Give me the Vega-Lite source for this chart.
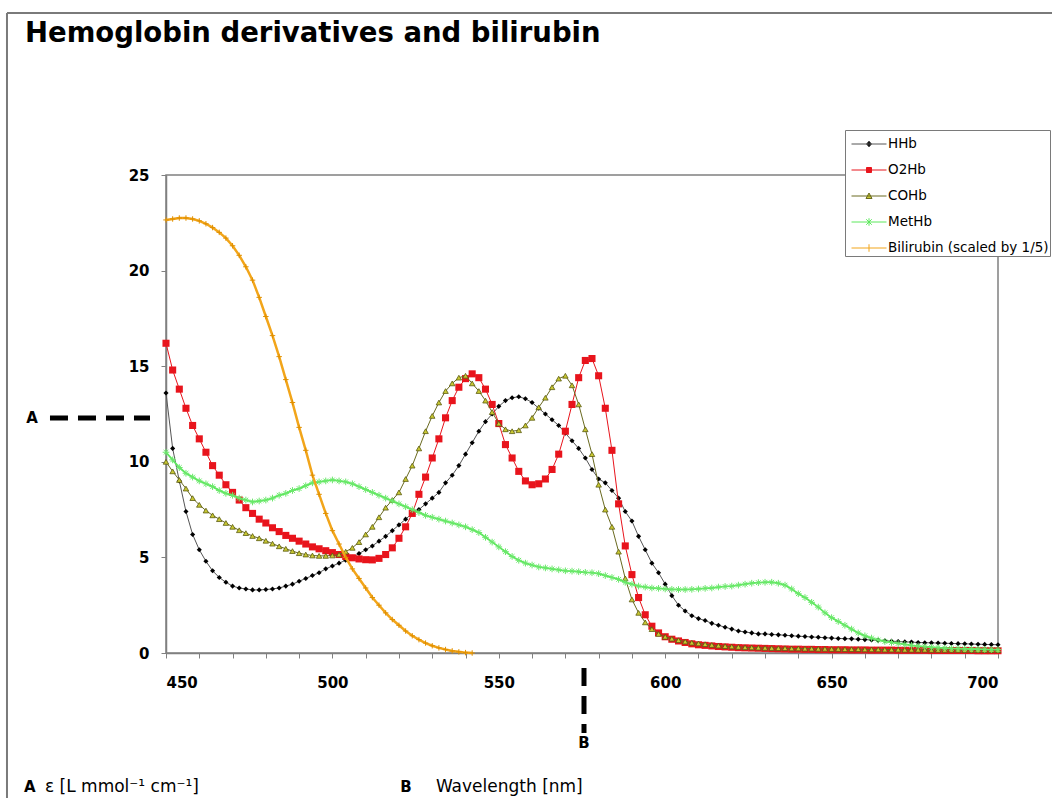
{
  "$schema": "https://vega.github.io/schema/vega-lite/v6.json",
  "width": 832,
  "height": 478,
  "autosize": {"type": "none"},
  "padding": {"left": 166, "top": 175, "right": 54, "bottom": 145},
  "background": "white",
  "title": {"text": "Hemoglobin derivatives and bilirubin", "anchor": "start", "frame": "group", "font": "DejaVu Sans", "fontSize": 27.5, "fontWeight": "bold", "color": "#000000", "dx": -141, "dy": 45, "offset": 10},
  "config": {
    "view": {"stroke": "#808080", "strokeWidth": 1.5},
    "axis": {"grid": false, "title": null, "domainColor": "#808080", "domainWidth": 1.5, "tickColor": "#808080", "tickSize": 5, "labelFont": "DejaVu Sans", "labelFontSize": 15, "labelFontWeight": "bold", "labelColor": "#000000", "labelOverlap": false}
  },
  "datasets": {
    "spec": [
      {"w":450,"HHb":13.6,"O2Hb":16.2,"COHb":10.0,"MetHb":10.5,"Bili":22.65},
      {"w":452,"HHb":10.7,"O2Hb":14.8,"COHb":9.5,"MetHb":10.1,"Bili":22.7},
      {"w":454,"HHb":9.0,"O2Hb":13.8,"COHb":9.05,"MetHb":9.7,"Bili":22.75},
      {"w":456,"HHb":7.4,"O2Hb":12.8,"COHb":8.6,"MetHb":9.4,"Bili":22.75},
      {"w":458,"HHb":6.2,"O2Hb":11.9,"COHb":8.1,"MetHb":9.2,"Bili":22.7},
      {"w":460,"HHb":5.4,"O2Hb":11.2,"COHb":7.75,"MetHb":9.0,"Bili":22.6},
      {"w":462,"HHb":4.8,"O2Hb":10.5,"COHb":7.45,"MetHb":8.85,"Bili":22.45},
      {"w":464,"HHb":4.3,"O2Hb":9.8,"COHb":7.2,"MetHb":8.7,"Bili":22.25},
      {"w":466,"HHb":3.95,"O2Hb":9.3,"COHb":7.0,"MetHb":8.5,"Bili":22.0},
      {"w":468,"HHb":3.7,"O2Hb":8.8,"COHb":6.8,"MetHb":8.35,"Bili":21.7},
      {"w":470,"HHb":3.5,"O2Hb":8.4,"COHb":6.6,"MetHb":8.25,"Bili":21.3},
      {"w":472,"HHb":3.4,"O2Hb":8.0,"COHb":6.42,"MetHb":8.1,"Bili":20.8},
      {"w":474,"HHb":3.35,"O2Hb":7.6,"COHb":6.27,"MetHb":8.0,"Bili":20.2},
      {"w":476,"HHb":3.3,"O2Hb":7.3,"COHb":6.12,"MetHb":7.9,"Bili":19.5},
      {"w":478,"HHb":3.3,"O2Hb":7.0,"COHb":6.0,"MetHb":7.95,"Bili":18.6},
      {"w":480,"HHb":3.32,"O2Hb":6.8,"COHb":5.87,"MetHb":8.0,"Bili":17.6},
      {"w":482,"HHb":3.35,"O2Hb":6.55,"COHb":5.72,"MetHb":8.1,"Bili":16.6},
      {"w":484,"HHb":3.4,"O2Hb":6.35,"COHb":5.58,"MetHb":8.25,"Bili":15.5},
      {"w":486,"HHb":3.5,"O2Hb":6.15,"COHb":5.45,"MetHb":8.35,"Bili":14.3},
      {"w":488,"HHb":3.6,"O2Hb":6.0,"COHb":5.33,"MetHb":8.5,"Bili":13.1},
      {"w":490,"HHb":3.75,"O2Hb":5.85,"COHb":5.22,"MetHb":8.6,"Bili":11.8},
      {"w":492,"HHb":3.9,"O2Hb":5.7,"COHb":5.15,"MetHb":8.75,"Bili":10.6},
      {"w":494,"HHb":4.05,"O2Hb":5.55,"COHb":5.1,"MetHb":8.9,"Bili":9.3},
      {"w":496,"HHb":4.2,"O2Hb":5.45,"COHb":5.08,"MetHb":8.95,"Bili":8.3},
      {"w":498,"HHb":4.4,"O2Hb":5.35,"COHb":5.08,"MetHb":9.0,"Bili":7.3},
      {"w":500,"HHb":4.55,"O2Hb":5.25,"COHb":5.1,"MetHb":9.05,"Bili":6.4},
      {"w":502,"HHb":4.7,"O2Hb":5.15,"COHb":5.15,"MetHb":9.0,"Bili":5.7},
      {"w":504,"HHb":4.85,"O2Hb":5.05,"COHb":5.3,"MetHb":8.95,"Bili":5.0},
      {"w":506,"HHb":5.0,"O2Hb":4.98,"COHb":5.5,"MetHb":8.85,"Bili":4.4},
      {"w":508,"HHb":5.2,"O2Hb":4.92,"COHb":5.8,"MetHb":8.7,"Bili":3.9},
      {"w":510,"HHb":5.4,"O2Hb":4.88,"COHb":6.2,"MetHb":8.55,"Bili":3.4},
      {"w":512,"HHb":5.6,"O2Hb":4.87,"COHb":6.6,"MetHb":8.4,"Bili":2.9},
      {"w":514,"HHb":5.85,"O2Hb":4.95,"COHb":7.1,"MetHb":8.25,"Bili":2.5},
      {"w":516,"HHb":6.1,"O2Hb":5.15,"COHb":7.6,"MetHb":8.1,"Bili":2.1},
      {"w":518,"HHb":6.4,"O2Hb":5.5,"COHb":8.0,"MetHb":7.95,"Bili":1.75},
      {"w":520,"HHb":6.7,"O2Hb":6.0,"COHb":8.4,"MetHb":7.8,"Bili":1.45},
      {"w":522,"HHb":7.0,"O2Hb":6.6,"COHb":9.1,"MetHb":7.65,"Bili":1.15},
      {"w":524,"HHb":7.3,"O2Hb":7.3,"COHb":9.8,"MetHb":7.5,"Bili":0.9},
      {"w":526,"HHb":7.5,"O2Hb":8.3,"COHb":10.7,"MetHb":7.35,"Bili":0.7},
      {"w":528,"HHb":7.8,"O2Hb":9.2,"COHb":11.6,"MetHb":7.2,"Bili":0.52},
      {"w":530,"HHb":8.1,"O2Hb":10.2,"COHb":12.4,"MetHb":7.1,"Bili":0.38},
      {"w":532,"HHb":8.4,"O2Hb":11.2,"COHb":13.1,"MetHb":7.0,"Bili":0.27},
      {"w":534,"HHb":8.9,"O2Hb":12.3,"COHb":13.7,"MetHb":6.9,"Bili":0.18},
      {"w":536,"HHb":9.3,"O2Hb":13.2,"COHb":14.1,"MetHb":6.8,"Bili":0.11},
      {"w":538,"HHb":9.8,"O2Hb":13.9,"COHb":14.4,"MetHb":6.7,"Bili":0.06},
      {"w":540,"HHb":10.4,"O2Hb":14.35,"COHb":14.5,"MetHb":6.6,"Bili":0.02},
      {"w":542,"HHb":11.0,"O2Hb":14.6,"COHb":14.1,"MetHb":6.45,"Bili":0.0},
      {"w":544,"HHb":11.6,"O2Hb":14.4,"COHb":13.7,"MetHb":6.3},
      {"w":546,"HHb":12.1,"O2Hb":13.8,"COHb":13.2,"MetHb":6.05},
      {"w":548,"HHb":12.5,"O2Hb":13.0,"COHb":12.6,"MetHb":5.8},
      {"w":550,"HHb":12.9,"O2Hb":12.0,"COHb":12.0,"MetHb":5.55},
      {"w":552,"HHb":13.2,"O2Hb":10.9,"COHb":11.7,"MetHb":5.3},
      {"w":554,"HHb":13.35,"O2Hb":10.2,"COHb":11.6,"MetHb":5.05},
      {"w":556,"HHb":13.4,"O2Hb":9.5,"COHb":11.65,"MetHb":4.85},
      {"w":558,"HHb":13.3,"O2Hb":9.0,"COHb":11.9,"MetHb":4.7},
      {"w":560,"HHb":13.1,"O2Hb":8.8,"COHb":12.3,"MetHb":4.6},
      {"w":562,"HHb":12.8,"O2Hb":8.85,"COHb":12.85,"MetHb":4.5},
      {"w":564,"HHb":12.5,"O2Hb":9.1,"COHb":13.35,"MetHb":4.45},
      {"w":566,"HHb":12.2,"O2Hb":9.6,"COHb":13.9,"MetHb":4.4},
      {"w":568,"HHb":11.9,"O2Hb":10.4,"COHb":14.35,"MetHb":4.35},
      {"w":570,"HHb":11.5,"O2Hb":11.6,"COHb":14.5,"MetHb":4.3},
      {"w":572,"HHb":11.1,"O2Hb":13.0,"COHb":14.0,"MetHb":4.28},
      {"w":574,"HHb":10.7,"O2Hb":14.4,"COHb":13.0,"MetHb":4.25},
      {"w":576,"HHb":10.2,"O2Hb":15.3,"COHb":11.7,"MetHb":4.22},
      {"w":578,"HHb":9.6,"O2Hb":15.4,"COHb":10.4,"MetHb":4.2},
      {"w":580,"HHb":9.1,"O2Hb":14.5,"COHb":8.8,"MetHb":4.15},
      {"w":582,"HHb":8.9,"O2Hb":12.8,"COHb":7.5,"MetHb":4.05},
      {"w":584,"HHb":8.5,"O2Hb":10.6,"COHb":6.6,"MetHb":3.95},
      {"w":586,"HHb":8.1,"O2Hb":7.8,"COHb":5.3,"MetHb":3.85},
      {"w":588,"HHb":7.4,"O2Hb":5.6,"COHb":3.9,"MetHb":3.7},
      {"w":590,"HHb":6.9,"O2Hb":4.1,"COHb":2.8,"MetHb":3.6},
      {"w":592,"HHb":6.1,"O2Hb":2.9,"COHb":2.1,"MetHb":3.5},
      {"w":594,"HHb":5.4,"O2Hb":2.0,"COHb":1.6,"MetHb":3.45},
      {"w":596,"HHb":4.7,"O2Hb":1.4,"COHb":1.25,"MetHb":3.4},
      {"w":598,"HHb":4.2,"O2Hb":1.05,"COHb":1.0,"MetHb":3.38},
      {"w":600,"HHb":3.6,"O2Hb":0.85,"COHb":0.85,"MetHb":3.35},
      {"w":602,"HHb":3.0,"O2Hb":0.72,"COHb":0.75,"MetHb":3.33},
      {"w":604,"HHb":2.5,"O2Hb":0.63,"COHb":0.67,"MetHb":3.32},
      {"w":606,"HHb":2.2,"O2Hb":0.55,"COHb":0.6,"MetHb":3.32},
      {"w":608,"HHb":1.95,"O2Hb":0.48,"COHb":0.54,"MetHb":3.33},
      {"w":610,"HHb":1.8,"O2Hb":0.43,"COHb":0.5,"MetHb":3.35},
      {"w":612,"HHb":1.7,"O2Hb":0.4,"COHb":0.46,"MetHb":3.38},
      {"w":614,"HHb":1.55,"O2Hb":0.37,"COHb":0.42,"MetHb":3.4},
      {"w":616,"HHb":1.45,"O2Hb":0.34,"COHb":0.39,"MetHb":3.45},
      {"w":618,"HHb":1.35,"O2Hb":0.32,"COHb":0.36,"MetHb":3.48},
      {"w":620,"HHb":1.25,"O2Hb":0.3,"COHb":0.34,"MetHb":3.5},
      {"w":622,"HHb":1.15,"O2Hb":0.28,"COHb":0.32,"MetHb":3.55},
      {"w":624,"HHb":1.1,"O2Hb":0.27,"COHb":0.3,"MetHb":3.6},
      {"w":626,"HHb":1.05,"O2Hb":0.26,"COHb":0.29,"MetHb":3.65},
      {"w":628,"HHb":1.0,"O2Hb":0.25,"COHb":0.28,"MetHb":3.68},
      {"w":630,"HHb":1.0,"O2Hb":0.24,"COHb":0.27,"MetHb":3.7},
      {"w":632,"HHb":0.97,"O2Hb":0.23,"COHb":0.26,"MetHb":3.7},
      {"w":634,"HHb":0.95,"O2Hb":0.22,"COHb":0.25,"MetHb":3.65},
      {"w":636,"HHb":0.93,"O2Hb":0.21,"COHb":0.25,"MetHb":3.55},
      {"w":638,"HHb":0.9,"O2Hb":0.2,"COHb":0.24,"MetHb":3.35},
      {"w":640,"HHb":0.88,"O2Hb":0.2,"COHb":0.24,"MetHb":3.1},
      {"w":642,"HHb":0.86,"O2Hb":0.19,"COHb":0.23,"MetHb":2.9},
      {"w":644,"HHb":0.84,"O2Hb":0.19,"COHb":0.23,"MetHb":2.65},
      {"w":646,"HHb":0.82,"O2Hb":0.18,"COHb":0.22,"MetHb":2.4},
      {"w":648,"HHb":0.8,"O2Hb":0.18,"COHb":0.22,"MetHb":2.1},
      {"w":650,"HHb":0.78,"O2Hb":0.17,"COHb":0.21,"MetHb":1.85},
      {"w":652,"HHb":0.76,"O2Hb":0.17,"COHb":0.21,"MetHb":1.65},
      {"w":654,"HHb":0.75,"O2Hb":0.17,"COHb":0.2,"MetHb":1.45},
      {"w":656,"HHb":0.74,"O2Hb":0.16,"COHb":0.2,"MetHb":1.25},
      {"w":658,"HHb":0.72,"O2Hb":0.16,"COHb":0.2,"MetHb":1.05},
      {"w":660,"HHb":0.7,"O2Hb":0.16,"COHb":0.19,"MetHb":0.9},
      {"w":662,"HHb":0.68,"O2Hb":0.15,"COHb":0.19,"MetHb":0.78},
      {"w":664,"HHb":0.66,"O2Hb":0.15,"COHb":0.19,"MetHb":0.68},
      {"w":666,"HHb":0.64,"O2Hb":0.15,"COHb":0.18,"MetHb":0.6},
      {"w":668,"HHb":0.62,"O2Hb":0.15,"COHb":0.18,"MetHb":0.55},
      {"w":670,"HHb":0.6,"O2Hb":0.14,"COHb":0.18,"MetHb":0.5},
      {"w":672,"HHb":0.58,"O2Hb":0.14,"COHb":0.17,"MetHb":0.45},
      {"w":674,"HHb":0.57,"O2Hb":0.14,"COHb":0.17,"MetHb":0.4},
      {"w":676,"HHb":0.55,"O2Hb":0.14,"COHb":0.17,"MetHb":0.36},
      {"w":678,"HHb":0.54,"O2Hb":0.14,"COHb":0.17,"MetHb":0.33},
      {"w":680,"HHb":0.53,"O2Hb":0.13,"COHb":0.16,"MetHb":0.3},
      {"w":682,"HHb":0.52,"O2Hb":0.13,"COHb":0.16,"MetHb":0.28},
      {"w":684,"HHb":0.51,"O2Hb":0.13,"COHb":0.16,"MetHb":0.26},
      {"w":686,"HHb":0.5,"O2Hb":0.13,"COHb":0.16,"MetHb":0.24},
      {"w":688,"HHb":0.49,"O2Hb":0.13,"COHb":0.16,"MetHb":0.23},
      {"w":690,"HHb":0.48,"O2Hb":0.13,"COHb":0.15,"MetHb":0.22},
      {"w":692,"HHb":0.47,"O2Hb":0.13,"COHb":0.15,"MetHb":0.21},
      {"w":694,"HHb":0.46,"O2Hb":0.12,"COHb":0.15,"MetHb":0.2},
      {"w":696,"HHb":0.45,"O2Hb":0.12,"COHb":0.15,"MetHb":0.19},
      {"w":698,"HHb":0.44,"O2Hb":0.12,"COHb":0.15,"MetHb":0.18},
      {"w":700,"HHb":0.43,"O2Hb":0.12,"COHb":0.15,"MetHb":0.18}
    ],
    "rules": [
      {"x": 402.22, "x2": 402.22, "y": 33.47, "y2": -8},
      {"x": 402.22, "x2": 720, "y": 33.47, "y2": 33.47}
    ],
    "dashes": [
      {"x": 415.14, "x2": 445.19, "y": 12.29, "y2": 12.29},
      {"x": 575.6, "x2": 575.6, "y": -0.78, "y2": -4.18}
    ],
    "boldnotes": [
      {"x": 409.74, "y": 12.29, "t": "A"},
      {"x": 575.6, "y": -4.71, "t": "B"},
      {"x": 409.1, "y": -7.01, "t": "A"},
      {"x": 522.1, "y": -7.01, "t": "B"}
    ],
    "notes": [
      {"x": 413.64, "y": -7.01, "t": "ε [L mmol⁻¹ cm⁻¹]"},
      {"x": 531.1, "y": -7.01, "t": "Wavelength [nm]"}
    ]
  },
  "data": {"name": "spec"},
  "encoding": {
    "x": {"field": "w", "type": "quantitative", "scale": {"domain": [450, 700], "nice": false, "zero": false},
      "axis": {"values": [450,460,470,480,490,500,510,520,530,540,550,560,570,580,590,600,610,620,630,640,650,660,670,680,690,700], "labelExpr": "datum.value % 50 === 0 ? datum.label : ''", "labelPadding": 17}}
  },
  "layer": [
    {"data": {"name": "rules"}, "mark": {"type": "rule", "color": "#7a7a7a", "strokeWidth": 2},
      "encoding": {"x": {"field": "x", "type": "quantitative"}, "x2": {"field": "x2"}, "y": {"field": "y", "type": "quantitative"}, "y2": {"field": "y2"}}},
    {"data": {"name": "dashes"}, "mark": {"type": "rule", "color": "#000000", "strokeWidth": 5, "strokeDash": [18, 10]},
      "encoding": {"x": {"field": "x", "type": "quantitative"}, "x2": {"field": "x2"}, "y": {"field": "y", "type": "quantitative"}, "y2": {"field": "y2"}}},
    {"data": {"name": "boldnotes"}, "mark": {"type": "text", "font": "DejaVu Sans", "fontWeight": "bold", "fontSize": 15, "align": "center", "baseline": "middle", "color": "#000000"},
      "encoding": {"x": {"field": "x", "type": "quantitative"}, "y": {"field": "y", "type": "quantitative"}, "text": {"field": "t"}}},
    {"data": {"name": "notes"}, "mark": {"type": "text", "font": "DejaVu Sans", "fontSize": 17, "align": "left", "baseline": "middle", "color": "#000000"},
      "encoding": {"x": {"field": "x", "type": "quantitative"}, "y": {"field": "y", "type": "quantitative"}, "text": {"field": "t"}}},
    {"mark": {"type": "line", "strokeWidth": 1},
      "encoding": {"y": {"field": "HHb", "type": "quantitative", "scale": {"domain": [0, 25], "nice": false}, "axis": {"values": [0,5,10,15,20,25], "labelPadding": 12}},
        "color": {"datum": "HHb", "type": "nominal",
          "scale": {"domain": ["HHb", "O2Hb", "COHb", "MetHb", "Bilirubin (scaled by 1/5)"], "range": ["#555555", "#e8141c", "#6a6a20", "#5de85d", "#f2a51a"]},
          "legend": {"title": null, "orient": "none", "legendX": 679, "legendY": -45, "direction": "vertical", "strokeColor": "#7a7a7a", "fillColor": "white", "padding": 1, "symbolSize": 625, "symbolStrokeWidth": 1, "symbolOffset": 10, "labelOffset": 6, "labelFont": "DejaVu Sans", "labelFontSize": 13.5, "labelColor": "#000000", "rowPadding": 6, "labelLimit": 300,
            "encode": {"symbols": {"update": {
              "shape": {"signal": "datum.value === 'HHb' ? 'M-1.4,0H1.4M0,-0.24L0.2,0L0,0.24L-0.2,0Z' : datum.value === 'O2Hb' ? 'M-1.4,0H1.4M-0.2,-0.2H0.2V0.2H-0.2Z' : datum.value === 'COHb' ? 'M-1.4,0H1.4M0,-0.24L0.24,0.2H-0.24Z' : datum.value === 'MetHb' ? 'M-1.4,0H1.4M-0.22,-0.22L0.22,0.22M-0.22,0.22L0.22,-0.22M0,-0.3V0.3' : 'M-1.4,0H1.4M0,-0.3V0.3'"},
              "fill": {"signal": "datum.value === 'HHb' ? '#000000' : datum.value === 'O2Hb' ? '#e8141c' : datum.value === 'COHb' ? '#c8c832' : datum.value === 'MetHb' ? '#5de85d' : '#f2a51a'"},
              "stroke": {"signal": "datum.value === 'HHb' ? '#555555' : datum.value === 'O2Hb' ? '#e8141c' : datum.value === 'COHb' ? '#6a6a20' : datum.value === 'MetHb' ? '#5de85d' : '#f2a51a'"},
              "opacity": {"value": 1}
            }}}}}}},
    {"mark": {"type": "point", "shape": "diamond", "filled": true, "color": "#000000", "size": 26, "opacity": 1},
      "encoding": {"y": {"field": "HHb", "type": "quantitative"}}},
    {"mark": {"type": "line", "strokeWidth": 1},
      "encoding": {"y": {"field": "O2Hb", "type": "quantitative"}, "color": {"datum": "O2Hb", "type": "nominal"}}},
    {"mark": {"type": "point", "shape": "square", "filled": true, "color": "#e8141c", "size": 50, "opacity": 1},
      "encoding": {"y": {"field": "O2Hb", "type": "quantitative"}}},
    {"mark": {"type": "line", "strokeWidth": 1},
      "encoding": {"y": {"field": "COHb", "type": "quantitative"}, "color": {"datum": "COHb", "type": "nominal"}}},
    {"mark": {"type": "point", "shape": "triangle-up", "filled": true, "fill": "#c8c832", "stroke": "#5a5a10", "strokeWidth": 0.8, "size": 30, "opacity": 1},
      "encoding": {"y": {"field": "COHb", "type": "quantitative"}}},
    {"mark": {"type": "line", "strokeWidth": 1.8},
      "encoding": {"y": {"field": "MetHb", "type": "quantitative"}, "color": {"datum": "MetHb", "type": "nominal"}}},
    {"mark": {"type": "point", "shape": "M-1,0H1M0,-1V1M-0.7,-0.7L0.7,0.7M-0.7,0.7L0.7,-0.7", "filled": false, "color": "#6be86b", "strokeWidth": 1, "size": 45, "opacity": 1},
      "encoding": {"y": {"field": "MetHb", "type": "quantitative"}}},
    {"transform": [{"filter": "isValid(datum.Bili)"}],
      "mark": {"type": "line", "strokeWidth": 2.5},
      "encoding": {"y": {"field": "Bili", "type": "quantitative"}, "color": {"datum": "Bilirubin (scaled by 1/5)", "type": "nominal"}}},
    {"transform": [{"filter": "isValid(datum.Bili)"}],
      "mark": {"type": "point", "shape": "M0,-1V1M-1,0H1", "filled": false, "color": "#e09000", "strokeWidth": 1, "size": 30, "opacity": 1},
      "encoding": {"y": {"field": "Bili", "type": "quantitative"}}}
  ]
}
